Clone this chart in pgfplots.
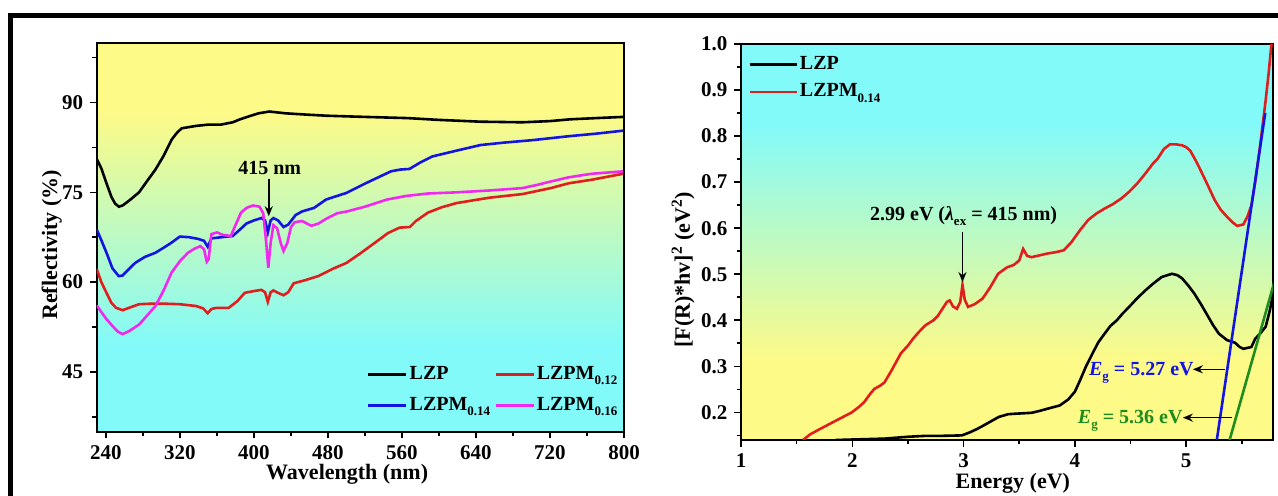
\documentclass[border=0pt]{standalone}
\usepackage{fontspec}
\setmainfont{Liberation Serif}
\usepackage{pgfplots}
\pgfplotsset{compat=1.18}
\usetikzlibrary{arrows.meta}
\definecolor{bgyellow}{RGB}{253,250,135}
\definecolor{bgcyan}{RGB}{130,250,250}
\definecolor{cred}{RGB}{225,30,30}
\definecolor{cblue}{RGB}{20,20,225}
\definecolor{cmag}{RGB}{240,40,240}
\definecolor{cgreen}{RGB}{30,140,30}
\pgfdeclareverticalshading{bgL}{100bp}{color(0bp)=(bgcyan); color(36bp)=(bgcyan); color(66bp)=(bgyellow); color(100bp)=(bgyellow)}
\pgfdeclareverticalshading{bgR}{100bp}{color(0bp)=(bgyellow); color(35bp)=(bgyellow); color(65bp)=(bgcyan); color(100bp)=(bgcyan)}
\newcommand{\sub}[1]{\raisebox{-2.6pt}{\fontsize{6.5}{8}\selectfont #1}}
\pgfplotsset{
 common/.style={
  scale only axis, anchor=south west,
  tick align=outside, xtick pos=bottom, ytick pos=left,
  major tick length=3.3pt, minor tick length=2.2pt,
  tick style={black, line width=0.8pt},
  axis line style={line width=1pt},
  ticklabel style={font=\fontsize{10.5}{12}\selectfont\bfseries},
  /pgf/number format/assume math mode=true,
  label style={font=\fontsize{11}{13}\selectfont\bfseries},
  legend cell align=left,
  legend style={draw=none, fill=none, font=\fontsize{10}{12}\selectfont\bfseries, inner sep=0pt, nodes={inner sep=1pt, text height=7.5pt, text depth=2.5pt}},
  every axis plot/.append style={line width=1.3pt},
 }
}
\begin{document}
\begin{tikzpicture}
\useasboundingbox (0,0) rectangle (639pt,248pt);
\draw[line width=2.6pt, line join=miter] (5.35pt,-5pt) -- (5.35pt,240.35pt) -- (650pt,240.35pt);
% ---------------- left panel
\begin{axis}[common, at={(48.35pt,32.15pt)}, width=263.65pt, height=194.5pt,
 xmin=230, xmax=800, ymin=35, ymax=100,
 xtick={240,320,400,480,560,640,720,800}, minor xtick={280,360,440,520,600,680,760},
 ytick={45,60,75,90}, minor ytick={37.5,52.5,67.5,82.5,97.5},
 xlabel={Wavelength (nm)}, ylabel={Reflectivity (\%)},
 xlabel style={at={(axis description cs:0.475,-0.109)}, anchor=center},
 ylabel style={at={(axis description cs:-0.085,0.48)}, anchor=center},
 axis background/.style={shade, shading=bgL},
 legend columns=2,
 legend image code/.code={\draw[#1] (0pt,0pt) -- (19pt,0pt);},
 legend style={at={(rel axis cs:0.512,0.1067)}, anchor=west, row sep=3.5pt, /tikz/every even column/.append style={column sep=1pt}},
]
\addplot[black] coordinates {(230,80.6) (235,79) (240.6,76.5) (246,74.2) (250,73.1) (254,72.6) (258,72.8) (265,73.6) (275.8,75) (285,77) (293.5,78.8) (302,81) (311,83.8) (317,85) (322,85.7) (337.5,86.1) (350,86.3) (364,86.3) (377,86.7) (385,87.2) (394.7,87.7) (405,88.2) (416.7,88.5) (434,88.2) (455,88) (478,87.8) (520,87.6) (566,87.4) (600,87.1) (645,86.8) (690,86.7) (720,86.9) (742,87.2) (770,87.4) (799,87.6)};
\addlegendentry{LZP}
\addplot[cred] coordinates {(230,62.2) (235,60) (240.6,58.2) (246,56.5) (251,55.7) (258,55.3) (265,55.7) (275.8,56.3) (290,56.4) (302,56.4) (320,56.3) (337.5,56) (345,55.6) (350,54.8) (354,55.5) (359.5,55.7) (372.7,55.7) (382,56.8) (390,58.2) (400,58.5) (408,58.7) (412,58.3) (415,56.7) (418,58.3) (421,58.6) (426,58.2) (432,57.8) (437,58.3) (443,59.8) (455,60.3) (469.6,61) (485,62.2) (500,63.2) (515,64.8) (531,66.6) (545,68.2) (557.4,69.1) (568.5,69.2) (575,70.2) (588,71.6) (603,72.5) (619,73.2) (654.5,74.1) (690,74.7) (720.8,75.7) (740,76.5) (765,77.1) (799,78.1)};
\addlegendentry{LZPM\sub{0.12}}
\addplot[cblue] coordinates {(230,68.8) (235,67) (240.6,64.9) (247,62.3) (253.8,61) (258,61.1) (265,62.2) (271.6,63.2) (282,64.2) (293.5,64.9) (303,65.8) (311,66.6) (319.8,67.6) (330,67.5) (340,67.2) (346,66.9) (350,65.9) (354,67.3) (365,67.5) (377,67.7) (385,68.8) (392,69.8) (400,70.3) (408,70.7) (412,70.3) (415,68.3) (418,70.3) (421,70.7) (426,70.3) (432,69.2) (437,69.6) (445,71.2) (452,71.8) (465,72.4) (478,73.8) (500,74.9) (522,76.6) (548,78.5) (558,78.8) (568,78.9) (580,80) (593,81) (620,82) (645,82.9) (670,83.3) (700,83.7) (742,84.4) (770,84.8) (799,85.3)};
\addlegendentry{LZPM\sub{0.14}}
\addplot[cmag] coordinates {(230,56.1) (235,55) (240.6,53.8) (248,52.5) (253,51.7) (258,51.3) (265,51.8) (275.8,52.9) (285,54.5) (293.5,56) (302,58.5) (311,61.6) (320,63.5) (328.7,64.9) (336,65.6) (342,66) (346,65.5) (349,63.4) (351,63.8) (354,68) (360,68.3) (366,67.9) (375,67.7) (380,69.5) (386,71.6) (392,72.4) (399,72.8) (406,72.6) (410,71.5) (413,67) (415.5,62.4) (418,66.5) (421,69.5) (425,69) (429,66.5) (432,65.2) (436,66.5) (440,69.2) (444,70) (452,70.2) (462,69.4) (470,69.8) (478.4,70.6) (490,71.5) (500.5,71.8) (520,72.6) (544,73.8) (565,74.4) (588,74.8) (620,75) (654,75.3) (690,75.7) (705,76.2) (720.8,76.8) (740,77.5) (765,78.1) (799,78.5)};
\addlegendentry{LZPM\sub{0.16}}
\node[anchor=base, font=\fontsize{10}{12}\selectfont\bfseries, inner sep=0pt] at (axis cs:417,77.9) {415 nm};
\draw[-{Stealth[length=5pt,width=4pt]}, line width=0.8pt] (axis cs:416,77.3) -- (axis cs:416,71.0);
\end{axis}
% ---------------- right panel
\begin{axis}[common, at={(370.5pt,28pt)}, width=266pt, height=198pt,
 xmin=1, xmax=5.78, ymin=0.14, ymax=1.0,
 xtick={1,2,3,4,5}, minor xtick={1.5,2.5,3.5,4.5,5.5},
 ytick={0.2,0.3,0.4,0.5,0.6,0.7,0.8,0.9,1.0}, minor ytick={0.15,0.25,0.35,0.45,0.55,0.65,0.75,0.85,0.95},
 yticklabel style={/pgf/number format/.cd, fixed, fixed zerofill, precision=1},
 xlabel={Energy (eV)}, ylabel={[F(R)*hv]\textsuperscript{2} (eV\textsuperscript{2})},
 xlabel style={at={(axis description cs:0.511,-0.1086)}, anchor=center},
 ylabel style={at={(axis description cs:-0.109,0.43)}, anchor=center},
 axis background/.style={shade, shading=bgR},
 legend image code/.code={\draw[#1] (0pt,0pt) -- (23.5pt,0pt);},
 legend style={at={(rel axis cs:0.013,0.914)}, anchor=west, row sep=1.85pt},
]
\addplot[black] coordinates {(1.85,0.14) (2.29,0.143) (2.5,0.147) (2.656,0.149) (2.8,0.149) (2.985,0.15) (3.06,0.157) (3.13,0.165) (3.205,0.175) (3.315,0.19) (3.4,0.196) (3.46,0.197) (3.61,0.199) (3.68,0.203) (3.755,0.208) (3.864,0.215) (3.94,0.228) (4.0,0.245) (4.047,0.27) (4.1,0.3) (4.158,0.328) (4.21,0.352) (4.267,0.371) (4.32,0.388) (4.377,0.4) (4.43,0.415) (4.487,0.429) (4.56,0.448) (4.634,0.465) (4.7,0.479) (4.78,0.494) (4.872,0.501) (4.92,0.498) (4.963,0.491) (5.02,0.475) (5.073,0.458) (5.13,0.436) (5.183,0.414) (5.24,0.39) (5.293,0.371) (5.366,0.357) (5.44,0.351) (5.48,0.342) (5.513,0.338) (5.586,0.342) (5.62,0.36) (5.66,0.37) (5.714,0.386) (5.75,0.42) (5.8,0.48)};
\addlegendentry{LZP}
\addplot[cred] coordinates {(1.557,0.14) (1.62,0.152) (1.703,0.163) (1.813,0.177) (1.9,0.188) (1.996,0.2) (2.06,0.212) (2.106,0.222) (2.16,0.24) (2.198,0.251) (2.25,0.258) (2.289,0.265) (2.35,0.29) (2.436,0.328) (2.5,0.345) (2.546,0.36) (2.6,0.375) (2.656,0.389) (2.729,0.4) (2.77,0.41) (2.802,0.422) (2.85,0.44) (2.875,0.443) (2.905,0.43) (2.94,0.425) (2.97,0.44) (2.99,0.477) (3.01,0.445) (3.04,0.429) (3.1,0.435) (3.17,0.447) (3.24,0.472) (3.31,0.501) (3.39,0.515) (3.45,0.52) (3.5,0.53) (3.535,0.555) (3.57,0.54) (3.61,0.537) (3.7,0.542) (3.755,0.545) (3.83,0.548) (3.9,0.552) (3.97,0.57) (4.047,0.596) (4.12,0.618) (4.194,0.632) (4.27,0.643) (4.34,0.652) (4.42,0.665) (4.487,0.679) (4.56,0.697) (4.634,0.719) (4.7,0.74) (4.744,0.751) (4.8,0.772) (4.853,0.782) (4.91,0.782) (4.963,0.78) (5.0,0.776) (5.037,0.768) (5.09,0.745) (5.147,0.717) (5.2,0.69) (5.256,0.661) (5.31,0.64) (5.366,0.625) (5.42,0.612) (5.458,0.605) (5.513,0.608) (5.55,0.625) (5.586,0.65) (5.62,0.7) (5.659,0.77) (5.69,0.83) (5.714,0.878) (5.74,0.935) (5.762,0.99) (5.78,1.03)};
\addlegendentry{LZPM\sub{0.14}}
\addplot[cblue, forget plot] coordinates {(5.275,0.14) (5.71,0.85)};
\addplot[cgreen, forget plot] coordinates {(5.39,0.14) (5.80,0.49)};
\node[anchor=base, font=\fontsize{10}{12}\selectfont\bfseries, inner sep=0pt] at (axis cs:3.0,0.617) {2.99 eV ({\itshape λ}\sub{ex} = 415 nm)};
\draw[-{Stealth[length=5pt,width=4pt]}, line width=0.8pt] (axis cs:2.99,0.592) -- (axis cs:2.99,0.483);
\node[anchor=base east, text=cblue, font=\fontsize{10}{12}\selectfont\bfseries, inner sep=0pt] at (axis cs:5.07,0.2804) {\textit{E}\sub{g} = 5.27 eV};
\draw[-{Stealth[length=5pt,width=4pt]}, line width=0.8pt] (axis cs:5.35,0.2935) -- (axis cs:5.06,0.2935);
\node[anchor=base east, text=cgreen, font=\fontsize{10}{12}\selectfont\bfseries, inner sep=0pt] at (axis cs:4.97,0.1755) {\textit{E}\sub{g} = 5.36 eV};
\draw[-{Stealth[length=5pt,width=4pt]}, line width=0.8pt] (axis cs:5.41,0.1885) -- (axis cs:4.97,0.1885);
\end{axis}
\end{tikzpicture}
\end{document}
